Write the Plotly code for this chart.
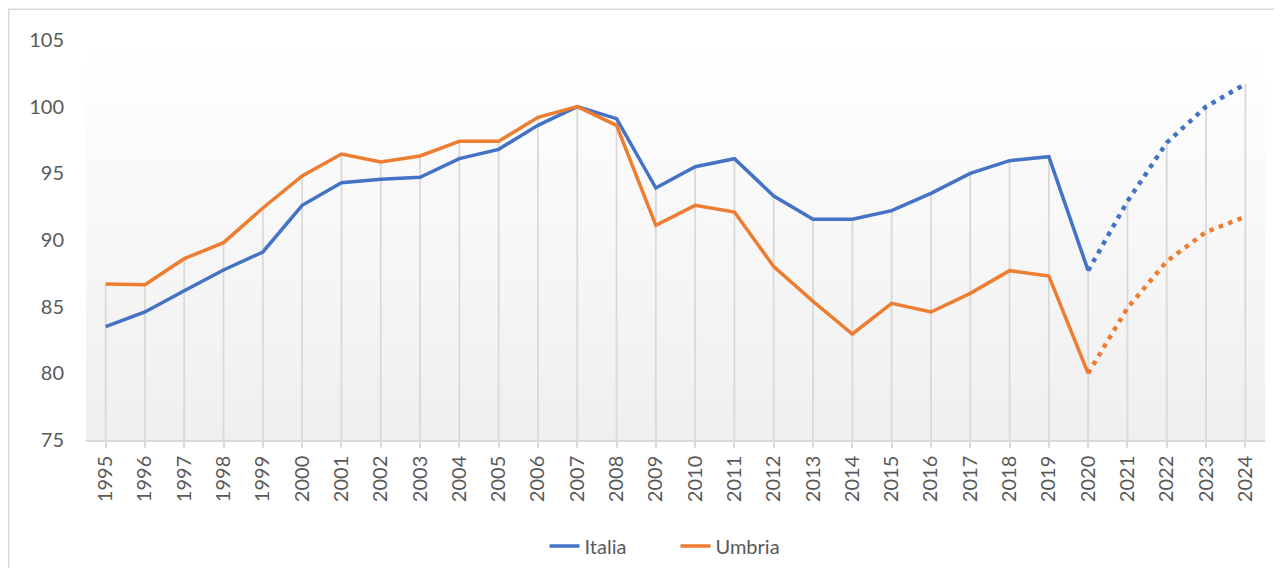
import plotly.graph_objects as go

years = list(range(1995, 2025))

italia = [83.5, 84.6, 86.2, 87.75, 89.1, 92.6, 94.3, 94.55, 94.7, 96.1,
          96.8, 98.6, 100.0, 99.1, 93.9, 95.5, 96.1, 93.3, 91.55, 91.55,
          92.2, 93.5, 95.0, 95.95, 96.25, 87.7, 92.9, 97.3, 100.0, 101.7]
umbria = [86.7, 86.65, 88.6, 89.8, 92.4, 94.8, 96.45, 95.85, 96.3, 97.4,
          97.4, 99.2, 100.0, 98.6, 91.1, 92.6, 92.1, 88.0, 85.4, 82.95,
          85.25, 84.6, 86.0, 87.7, 87.3, 80.0, 84.9, 88.4, 90.6, 91.75]

# last actual year, the rest is forecast (dotted)
split = years.index(2020)

blue = '#4472c4'
orange = '#ed7d31'
grey_txt = '#595959'
grid = '#d9d9d9'
font = 'Lato'

fig = go.Figure()

# plot area background (white -> light grey)
fig.add_trace(go.Scatter(
    x=[1994.5, 2024.5, 2024.5, 1994.5, 1994.5],
    y=[75, 75, 105, 105, 75],
    fill='toself',
    fillgradient=dict(type='vertical',
                      colorscale=[[0, '#efefef'], [1, '#ffffff']]),
    line=dict(width=0),
    mode='lines',
    hoverinfo='skip',
    showlegend=False,
))

# drop lines from the highest series down to the axis
dx, dy = [], []
for yr, a, b in zip(years, italia, umbria):
    dx += [yr, yr, None]
    dy += [75, max(a, b), None]
fig.add_trace(go.Scatter(
    x=dx, y=dy, mode='lines',
    line=dict(color=grid, width=1.8),
    hoverinfo='skip', showlegend=False,
))

for name, vals, col in [('Italia', italia, blue), ('Umbria', umbria, orange)]:
    fig.add_trace(go.Scatter(
        x=years[:split + 1], y=vals[:split + 1],
        mode='lines', name=name,
        line=dict(color=col, width=3.5),
    ))
    fig.add_trace(go.Scatter(
        x=years[split:], y=vals[split:],
        mode='lines', name=name, showlegend=False,
        line=dict(color=col, width=4.5, dash='4.5px,5.5px'),
    ))

# chart border (left and top edges visible)
fig.add_shape(type='rect', xref='paper', yref='paper',
              x0=-0.0655, x1=1.03, y0=-0.4, y1=1.077,
              line=dict(color=grid, width=1.5), layer='below')

fig.update_layout(
    width=1266, height=560,
    margin=dict(l=78, r=9, t=32, b=128, autoexpand=False),
    paper_bgcolor='white',
    plot_bgcolor='white',
    font=dict(family=font, size=20, color=grey_txt),
    showlegend=True,
    legend=dict(orientation='h', x=0.5, xanchor='center',
                y=-0.265, yanchor='middle',
                entrywidth=86,
                font=dict(size=20, color=grey_txt)),
    xaxis=dict(
        range=[1994.5, 2024.5],
        tickmode='array', tickvals=years,
        ticktext=[str(y) for y in years],
        tickangle=-90,
        showgrid=False, zeroline=False,
        showline=True, linecolor=grid, linewidth=1.5,
        ticks='outside', ticklen=6, tickcolor=grid, tickwidth=1.5,
        automargin=False,
        fixedrange=True,
    ),
    yaxis=dict(
        range=[75, 105],
        tickvals=[75, 80, 85, 90, 95, 100, 105],
        showgrid=False, zeroline=False, showline=False,
        ticklabelstandoff=21,
        automargin=False,
        fixedrange=True,
    ),
)

fig.write_html("out.html")
